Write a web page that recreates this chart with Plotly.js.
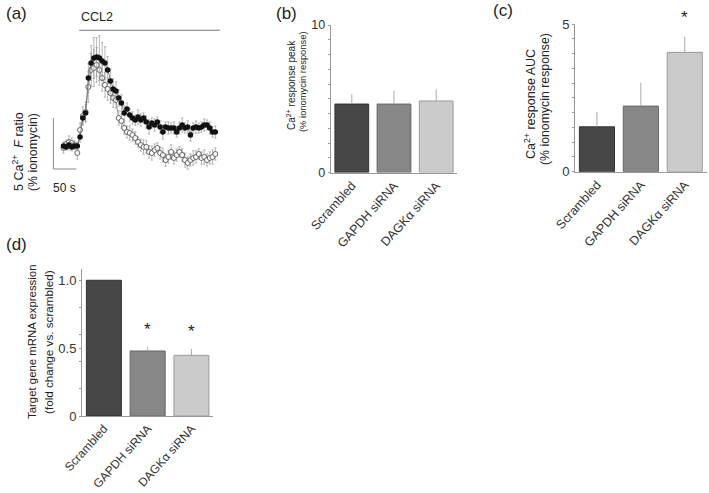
<!DOCTYPE html>
<html><head><meta charset="utf-8">
<script src="https://cdn.plot.ly/plotly-3.0.1.min.js"></script>
<style>html,body{margin:0;padding:0;background:#fff}#chart{width:709px;height:493px}</style>
</head><body><div id="chart"></div>
<script>
// ---------- data: panel (a) Ca2+ traces ----------
const timeSec = [0,6,12,18,24,30,36,42,48,54,60,66,72,78,84,90,96,102,108,114,120,126,132,138,144,150,156,162,168,174,180,186,192,198,204,210,216,222,228,234,240,246,252,258,264,270,276,282,288,294,300,306,312,318,324,330];
const filledMean = [2.25,2.16,2.35,2.16,2.25,2.25,3.14,5.00,5.49,8.92,10.39,10.88,10.98,10.88,10.59,10.39,9.71,8.63,7.84,7.65,6.96,6.47,5.49,5.88,5.29,5.00,4.80,5.10,4.80,5.00,4.61,4.12,4.51,4.31,4.61,4.12,3.63,4.12,4.02,4.02,4.02,3.63,4.02,4.31,4.02,4.12,3.33,4.02,4.12,4.02,4.12,4.31,4.31,4.02,3.63,3.63];
const filledErr = [0.4,0.3,0.5,0.4,0.3,0.4,0.5,0.6,0.8,1.4,1.7,2.0,1.9,2.2,1.8,1.6,1.3,1.2,1.0,0.9,0.8,0.8,0.7,0.6,0.6,0.6,0.5,0.7,0.6,0.5,0.6,0.7,0.5,0.6,0.5,0.6,0.7,0.5,0.6,0.5,0.6,0.5,0.6,0.7,0.5,0.6,0.6,0.5,0.6,0.5,0.5,0.6,0.5,0.6,0.5,0.6];
const openMean = [2.06,2.45,2.65,2.55,2.35,1.57,3.82,5.20,5.59,8.04,9.71,9.90,10.20,9.71,8.92,8.24,7.84,7.45,6.96,6.76,5.00,4.71,4.02,3.63,3.53,3.33,3.04,2.65,2.35,2.16,2.16,1.67,1.57,1.86,2.06,1.57,1.37,0.88,1.18,1.67,1.08,1.37,1.67,1.37,0.88,0.59,0.88,1.08,1.18,1.47,1.08,1.18,0.88,1.08,1.18,1.47];
const openErr = [0.5,0.4,0.6,0.5,0.4,0.6,0.7,0.9,1.0,1.5,1.6,1.8,1.7,1.5,1.3,1.2,1.1,1.0,0.9,0.8,0.7,0.7,0.6,0.6,0.7,0.6,0.6,0.5,0.6,0.7,0.6,0.6,0.7,0.6,0.5,0.6,0.7,0.6,0.6,0.7,0.6,0.6,0.5,0.6,0.7,0.6,0.6,0.7,0.6,0.5,0.6,0.7,0.6,0.6,0.7,0.6];
const stimStartSec = 34, stimEndSec = 340;

// ---------- data: bar panels ----------
const categories = ['Scrambled','GAPDH siRNA','DAGKα siRNA'];
const peakMean = [4.64, 4.64, 4.85];
const peakErr  = [0.66, 0.89, 0.79];
const aucMean  = [1.52, 2.22, 4.04];
const aucErr   = [0.50, 0.79, 0.53];
const aucSig   = ['', '', '*'];
const mrnaMean = [1.0, 0.479, 0.447];
const mrnaErr  = [0, 0.03, 0.047];
const mrnaSig  = ['', '*', '*'];

// tick labels
const bMajor = [0, 10], bMinor = [1,2,3,4,5,6,7,8,9];
const cMajor = [0, 5], cMinor = [0.5,1,1.5,2,2.5,3,3.5,4,4.5];
const dMajor = [0, 0.5, 1.0], dMajorText = ['0', '0.5', '1.0'], dMinor = [0.2, 0.4, 0.6, 0.8];

// ---------- styles ----------
const W = 709, H = 493;
const FONT = '"Liberation Sans", Arial, Helvetica, sans-serif';
const barFill = ['#474747','#878787','#cbcbcb'];
const barEdge = ['#333333','#666666','#9a9a9a'];
const px = (x) => x / W, py = (y) => 1 - y / H;
const dom = (a, b) => [a / W, b / W];
const domY = (top, bottom) => [1 - bottom / H, 1 - top / H];

function barTrace(means, errs, xa, ya) {
  return {
    type: 'bar', x: categories, y: means, xaxis: xa, yaxis: ya, width: 0.8,
    marker: {color: barFill, line: {color: barEdge, width: 1}},
    error_y: {type: 'data', array: errs, arrayminus: errs.map(() => 0), symmetric: false,
              color: '#aaaaaa', thickness: 1, width: 0},
    hoverinfo: 'skip', showlegend: false
  };
}
const catAxis = (domain, anchor, fs) => ({
  domain: domain, anchor: anchor, type: 'category', range: [-0.5, 2.5],
  showline: true, linecolor: '#999', linewidth: 1, ticks: '', showgrid: false, zeroline: false,
  tickangle: -48, ticklabeloverflow: 'allow', automargin: false,
  tickfont: {family: FONT, size: fs, color: '#333'}, fixedrange: true
});
const valAxis = (domain, anchor, range, major, majorText, minor, fs) => ({
  domain: domain, anchor: anchor, range: range, showline: true, linecolor: '#999', linewidth: 1,
  ticks: 'outside', ticklen: 2, tickcolor: '#999', tickwidth: 1, showgrid: false, zeroline: false,
  tickmode: 'array', tickvals: major, ticktext: majorText, automargin: false,
  minor: {tickmode: 'array', tickvals: minor, ticks: 'outside', ticklen: 2, tickcolor: '#999', tickwidth: 1, showgrid: false},
  tickfont: {family: FONT, size: fs, color: '#333'}, fixedrange: true
});

const traces = [
  {type: 'scatter', mode: 'lines+markers', x: timeSec, y: openMean, xaxis: 'x', yaxis: 'y',
   line: {color: '#888', width: 0.8},
   marker: {color: '#fff', size: 5, line: {color: '#555', width: 0.9}},
   error_y: {type: 'data', array: openErr, color: '#999', thickness: 0.7, width: 1.2},
   hoverinfo: 'skip', showlegend: false},
  {type: 'scatter', mode: 'lines+markers', x: timeSec, y: filledMean, xaxis: 'x', yaxis: 'y',
   line: {color: '#666', width: 0.8},
   marker: {color: '#111', size: 5.5},
   error_y: {type: 'data', array: filledErr, color: '#999', thickness: 0.7, width: 1.2},
   hoverinfo: 'skip', showlegend: false},
  barTrace(peakMean, peakErr, 'x2', 'y2'),
  barTrace(aucMean, aucErr, 'x3', 'y3'),
  barTrace(mrnaMean, mrnaErr, 'x4', 'y4')
];

function ann(text, x, y, size, opts) {
  return Object.assign({text: text, x: px(x), y: py(y), xref: 'paper', yref: 'paper',
    showarrow: false, font: {family: FONT, size: size, color: '#222'},
    xanchor: 'center', yanchor: 'middle'}, opts || {});
}
const annotations = [
  ann('(a)', 4, 13, 17, {xanchor: 'left'}),
  ann('(b)', 274, 13, 17, {xanchor: 'left'}),
  ann('(c)', 491, 11, 17, {xanchor: 'left'}),
  ann('(d)', 4, 244, 17, {xanchor: 'left'}),
  ann('CCL2', 79, 17, 12.5, {xanchor: 'left'}),
  ann('50 s', 51, 188, 12, {xanchor: 'left'}),
  ann('5 Ca<sup>2+</sup>  <i>F</i> ratio', 18, 152, 12.5, {textangle: -90}),
  ann('(% ionomycin)', 33, 152, 12.3, {textangle: -90}),
  ann('Ca<sup>2+</sup> response peak', 291, 85, 10, {textangle: -90}),
  ann('(% ionomycin response)', 302, 82, 9.4, {textangle: -90}),
  ann('Ca<sup>2+</sup> response AUC', 530, 104, 12.5, {textangle: -90}),
  ann('(% ionomycin response)', 545, 99, 12.3, {textangle: -90}),
  ann('Target gene mRNA expression', 32, 342, 11.4, {textangle: -90}),
  ann('(fold change vs. scrambled)', 48, 342, 11.7, {textangle: -90})
];
aucSig.forEach((s, i) => { if (s) annotations.push({text: s, x: categories[i], y: aucMean[i] + aucErr[i],
  xref: 'x3', yref: 'y3', showarrow: false, yanchor: 'bottom', yshift: 8,
  font: {family: FONT, size: 17, color: '#222'}}); });
mrnaSig.forEach((s, i) => { if (s) annotations.push({text: s, x: categories[i], y: mrnaMean[i] + mrnaErr[i],
  xref: 'x4', yref: 'y4', showarrow: false, yanchor: 'bottom', yshift: 6,
  font: {family: FONT, size: 17, color: '#222'}}); });

const shapes = [
  {type: 'line', xref: 'x', yref: 'y', x0: stimStartSec, x1: stimEndSec, y0: 13.6, y1: 13.6,
   line: {color: '#777', width: 1}},
  {type: 'path', xref: 'x', yref: 'y', path: 'M -22 5 L -22 0 L 28 0', line: {color: '#888', width: 1}}
];

const layout = {
  width: W, height: H, margin: {l: 0, r: 0, t: 0, b: 0}, paper_bgcolor: '#fff', plot_bgcolor: 'rgba(0,0,0,0)',
  font: {family: FONT, color: '#222'}, showlegend: false, bargap: 0.2,
  xaxis: {domain: dom(49.7, 222.2), range: [-30, 345], visible: false, fixedrange: true},
  yaxis: {domain: domY(16, 189.4), range: [-2, 15], visible: false, fixedrange: true},
  xaxis2: catAxis(dom(330.7, 457.3), 'y2', 12.5),
  yaxis2: valAxis(domY(25, 172.5), 'x2', [0, 10], bMajor, ['0', '10'], bMinor, 12.5),
  xaxis3: catAxis(dom(575, 706.7), 'y3', 12.5),
  yaxis3: valAxis(domY(24, 171.7), 'x3', [0, 5], cMajor, ['0', '5'], cMinor, 13),
  xaxis4: catAxis(dom(82, 213.3), 'y4', 12),
  yaxis4: valAxis(domY(269.4, 416), 'x4', [0, 1.08], dMajor, dMajorText, dMinor, 13),
  annotations: annotations, shapes: shapes
};
Plotly.newPlot('chart', traces, layout, {staticPlot: true, displayModeBar: false});
</script></body></html>
